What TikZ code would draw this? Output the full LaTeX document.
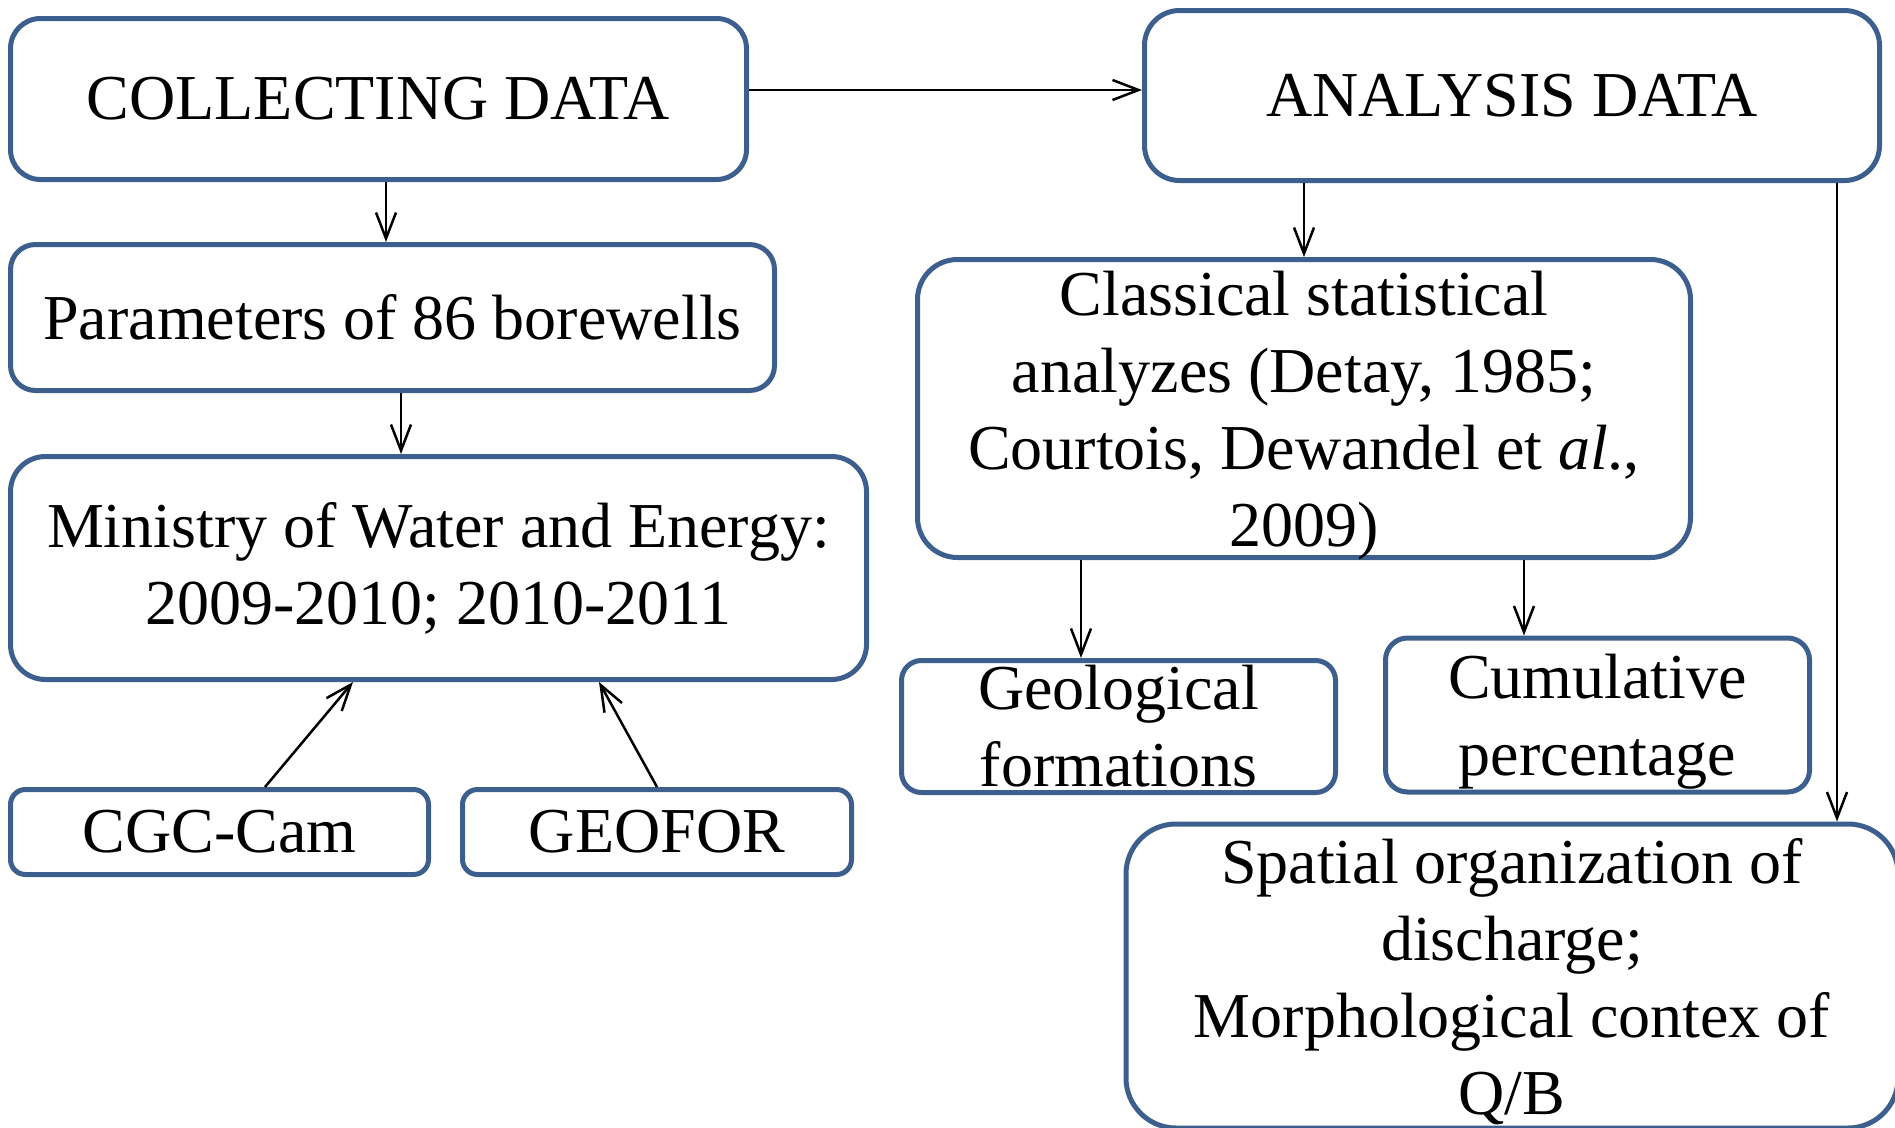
\documentclass[tikz,border=0pt]{standalone}
\usepackage{fontspec}
\setmainfont{Liberation Serif}
\usetikzlibrary{arrows.meta}
\definecolor{boxblue}{HTML}{3C5F8E}

\begin{document}
\begin{tikzpicture}[x=1pt, y=-1pt, >={Straight Barb[length=26pt,width=20pt]}, line width=2.5pt]
    \tikzstyle{box}=[draw=boxblue, line width=5pt, rounded corners=25pt, align=center, inner sep=0pt, font=\fontsize{64}{77}\selectfont]
    \useasboundingbox (0,0) rectangle (1895,1127);

    \node[box, rounded corners=30pt, minimum width=736pt, minimum height=161pt] (collect) at (378.5,99) {COLLECTING DATA};
    \node[box, rounded corners=35pt, minimum width=735pt, minimum height=170pt] (analysis) at (1512,95.5) {ANALYSIS DATA};
    \node[box, minimum width=764pt, minimum height=146pt] (param) at (392.5,317.5) {Parameters of 86 borewells};
    \node[box, rounded corners=35pt, minimum width=856pt, minimum height=223pt] (ministry) at (438.5,568) {Ministry of Water and Energy:\\2009-2010; 2010-2011};
    \node[box, rounded corners=15pt, minimum width=418pt, minimum height=85pt] (cgc) at (219.5,832) {CGC-Cam};
    \node[box, rounded corners=15pt, minimum width=389pt, minimum height=85pt] (geofor) at (657,832) {GEOFOR};
    \node[box, rounded corners=40pt, minimum width=773pt, minimum height=298pt] (classical) at (1304,408.5) {Classical statistical\\analyzes (Detay, 1985;\\Courtois, Dewandel et \textit{al}.,\\\smash{2009)}};
    \node[box, rounded corners=20pt, inner ysep=-5pt, minimum width=434pt, minimum height=132pt] (geol) at (1118.5,726.5) {Geological\\formations};
    \node[box, rounded corners=22pt, minimum width=424pt, minimum height=154pt] (cumul) at (1597.5,715) {Cumulative\\\smash{percentage}};
    \node[box, rounded corners=50pt, minimum width=772pt, minimum height=304pt] (spatial) at (1512,976) {Spatial organization of\\discharge;\\Morphological contex of\\\smash{Q/B}};

    \draw[->] ([yshift=9pt]collect.east) -- ([yshift=9pt]collect.east -| analysis.west);
    \draw[->] ([xshift=7.5pt]collect.south) -- ([xshift=7.5pt]collect.south |- param.north);
    \draw[->] ([xshift=8.5pt]param.south) -- ([xshift=8.5pt]param.south |- ministry.north);
    \draw[->] ([xshift=45.5pt]cgc.north) -- ([xshift=-85.5pt]ministry.south);
    \draw[->] (geofor.north) -- ([xshift=160.5pt]ministry.south);
    \draw[->] (analysis.south -| classical.north) -- (classical.north);
    \draw[->] ([xshift=-37.5pt]geol.north |- classical.south) -- ([xshift=-37.5pt]geol.north);
    \draw[->] ([xshift=-73.5pt]cumul.north |- classical.south) -- ([xshift=-73.5pt]cumul.north);
    \draw[->] ([xshift=325pt]analysis.south) -- ([xshift=325pt]analysis.south |- spatial.north);

\end{tikzpicture}
\end{document}
